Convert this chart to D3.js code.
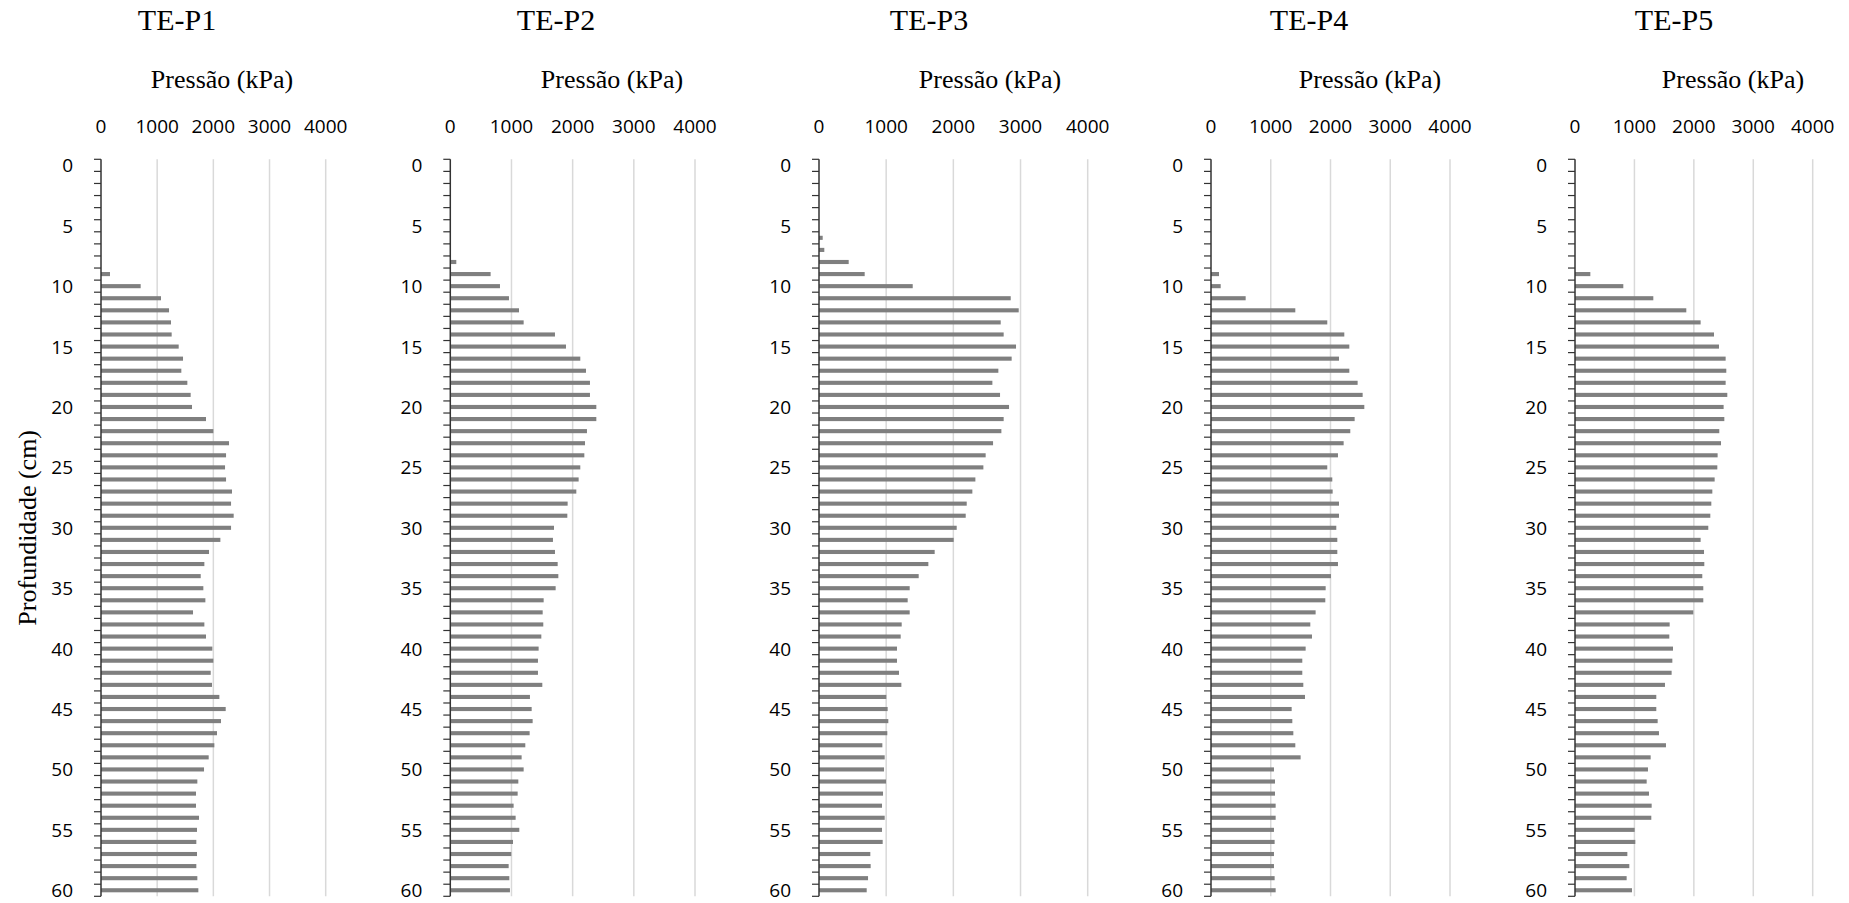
<!DOCTYPE html>
<meta charset="utf-8">
<html>
<head>
    <style>
        body { margin: 0; background: #fff; }
        text.serif { font-family: "Liberation Serif", "Times New Roman", serif; fill: #000; }
        text.tick { font-family: "Open Sans", Calibri, sans-serif; font-size: 19px; fill: #000; }
        .grid line { stroke: #d9d9d9; stroke-width: 1.5px; }
    </style>
    <title>Pressão x Profundidade</title>
    <script src="https://cdn.jsdelivr.net/npm/d3@7"></script>
</head>
<body>
<div id="chart"></div>
<script>
    // profundidade (cm), one category per cm
    const depths = [0, 1, 2, 3, 4, 5, 6, 7, 8, 9, 10, 11, 12, 13, 14, 15, 16, 17, 18, 19, 20,
        21, 22, 23, 24, 25, 26, 27, 28, 29, 30, 31, 32, 33, 34, 35, 36, 37, 38, 39, 40,
        41, 42, 43, 44, 45, 46, 47, 48, 49, 50, 51, 52, 53, 54, 55, 56, 57, 58, 59, 60];
    const depthLabels = [0, 5, 10, 15, 20, 25, 30, 35, 40, 45, 50, 55, 60];
    const pressureTicks = [0, 1000, 2000, 3000, 4000];
    const titles = ["TE-P1", "TE-P2", "TE-P3", "TE-P4", "TE-P5"];

    // pressão (kPa) per depth
    const p1 = [0, 0, 0, 0, 0, 0, 0, 0, 0, 160, 706, 1068, 1211, 1246, 1258, 1383, 1460, 1430, 1537, 1596, 1620,
        1869, 2000, 2279, 2226, 2208, 2226, 2332, 2315, 2362, 2315, 2125, 1923, 1840, 1775, 1822, 1858, 1638, 1840, 1869, 1982,
        2000, 1953, 1976, 2107, 2220, 2136, 2065, 2018, 1917, 1834, 1715, 1691, 1691, 1745, 1709, 1697, 1709, 1697, 1715, 1733];
    const p2 = [0, 0, 0, 0, 0, 0, 0, 0, 98, 659, 812, 959, 1123, 1199, 1711, 1891, 2125, 2218, 2283, 2283, 2387,
        2387, 2234, 2202, 2191, 2125, 2098, 2060, 1918, 1913, 1695, 1678, 1711, 1755, 1766, 1722, 1526, 1510, 1520, 1488, 1444,
        1433, 1433, 1504, 1302, 1330, 1346, 1297, 1226, 1166, 1199, 1112, 1101, 1035, 1068, 1128, 1025, 997, 954, 965, 975];
    const p3 = [0, 0, 0, 0, 0, 0, 55, 79, 442, 680, 1395, 2854, 2973, 2705, 2749, 2933, 2868, 2670, 2581, 2695, 2829,
        2749, 2715, 2591, 2481, 2447, 2328, 2283, 2199, 2184, 2050, 2005, 1722, 1628, 1484, 1350, 1320, 1350, 1231, 1216, 1161,
        1161, 1191, 1226, 1002, 1022, 1032, 1017, 943, 978, 968, 998, 953, 938, 978, 938, 948, 764, 769, 730, 710];
    const p4 = [0, 0, 0, 0, 0, 0, 0, 0, 0, 134, 162, 580, 1411, 1946, 2231, 2315, 2142, 2315, 2454, 2538, 2566,
        2404, 2331, 2220, 2125, 1946, 2030, 2036, 2142, 2142, 2097, 2114, 2114, 2125, 2008, 1919, 1913, 1751, 1662, 1690, 1584,
        1528, 1528, 1545, 1573, 1350, 1361, 1378, 1411, 1500, 1054, 1071, 1071, 1082, 1082, 1054, 1065, 1054, 1054, 1065, 1082];
    const p5 = [0, 0, 0, 0, 0, 0, 0, 0, 0, 258, 813, 1318, 1873, 2114, 2339, 2423, 2535, 2546, 2535, 2563, 2501,
        2513, 2428, 2457, 2400, 2395, 2350, 2311, 2294, 2277, 2243, 2114, 2171, 2176, 2142, 2159, 2159, 1991, 1593, 1587, 1649,
        1638, 1626, 1514, 1368, 1368, 1391, 1413, 1531, 1273, 1228, 1206, 1245, 1290, 1284, 1004, 1015, 881, 914, 869, 959];
    const series = [p1, p2, p3, p4, p5];

    // layout of each small chart: plot left / right, title and axis-title centres
    const panels = [
        {left: 101, right: 325.7, titleX: 177, axisTitleX: 222},
        {left: 450.3, right: 695, titleX: 556, axisTitleX: 612},
        {left: 819, right: 1087.7, titleX: 929, axisTitleX: 990},
        {left: 1211, right: 1450, titleX: 1309, axisTitleX: 1370},
        {left: 1575, right: 1812.7, titleX: 1674, axisTitleX: 1733}
    ];
    const plotTop = 159.3, plotBottom = 896.3;

    const svg = d3.select("#chart").append("svg")
        .attr("width", 1849)
        .attr("height", 903);

    const y = d3.scaleBand()
        .domain(depths)
        .range([plotTop, plotBottom])
        .paddingInner(0.66)
        .paddingOuter(0.33);
    const yTicks = d3.scaleBand().domain(depths).range([plotTop, plotBottom]);

    panels.forEach(function (p, i) {
        const x = d3.scaleLinear().domain([0, 4000]).range([p.left, p.right]);
        const g = svg.append("g");

        g.append("text")
            .attr("class", "serif")
            .attr("x", p.titleX).attr("y", 30)
            .attr("text-anchor", "middle")
            .style("font-size", "30px")
            .text(titles[i]);

        g.append("text")
            .attr("class", "serif")
            .attr("x", p.axisTitleX).attr("y", 88)
            .attr("text-anchor", "middle")
            .style("font-size", "26px")
            .text("Pressão (kPa)");

        // vertical gridlines
        g.append("g").attr("class", "grid")
            .selectAll("line")
            .data(pressureTicks.filter(d => d > 0))
            .enter().append("line")
            .attr("x1", d => x(d)).attr("x2", d => x(d))
            .attr("y1", plotTop).attr("y2", plotBottom);

        g.selectAll(".xlab")
            .data(pressureTicks)
            .enter().append("text")
            .attr("class", "tick")
            .attr("x", d => x(d))
            .attr("y", 126)
            .attr("text-anchor", "middle")
            .attr("dominant-baseline", "central")
            .text(d => d);

        g.selectAll(".bar")
            .data(series[i].map((v, k) => ({depth: depths[k], v: v})).filter(d => d.v > 0))
            .enter().append("rect")
            .attr("x", x(0))
            .attr("y", d => y(d.depth))
            .attr("width", d => x(d.v) - x(0))
            .attr("height", y.bandwidth())
            .attr("fill", "#7f7f7f");

        // category axis: ticks between categories
        const edges = depths.map(d => yTicks(d)).concat([plotBottom]);
        g.selectAll(".ytick")
            .data(edges)
            .enter().append("line")
            .attr("x1", x(0) - 7).attr("x2", x(0))
            .attr("y1", d => d).attr("y2", d => d)
            .attr("stroke", "#333")
            .attr("stroke-width", 1.2);
        g.append("line")
            .attr("x1", x(0)).attr("x2", x(0))
            .attr("y1", plotTop).attr("y2", plotBottom)
            .attr("stroke", "#333")
            .attr("stroke-width", 1.5);

        g.selectAll(".ylab")
            .data(depthLabels)
            .enter().append("text")
            .attr("class", "tick")
            .attr("x", x(0) - 28)
            .attr("y", d => yTicks(d) + yTicks.bandwidth() / 2)
            .attr("text-anchor", "end")
            .attr("dominant-baseline", "central")
            .text(d => d);
    });

    svg.append("text")
        .attr("class", "serif")
        .attr("transform", "translate(36," + (plotTop + plotBottom) / 2 + ") rotate(-90)")
        .attr("text-anchor", "middle")
        .style("font-size", "26px")
        .text("Profundidade (cm)");
</script>
</body>
</html>
